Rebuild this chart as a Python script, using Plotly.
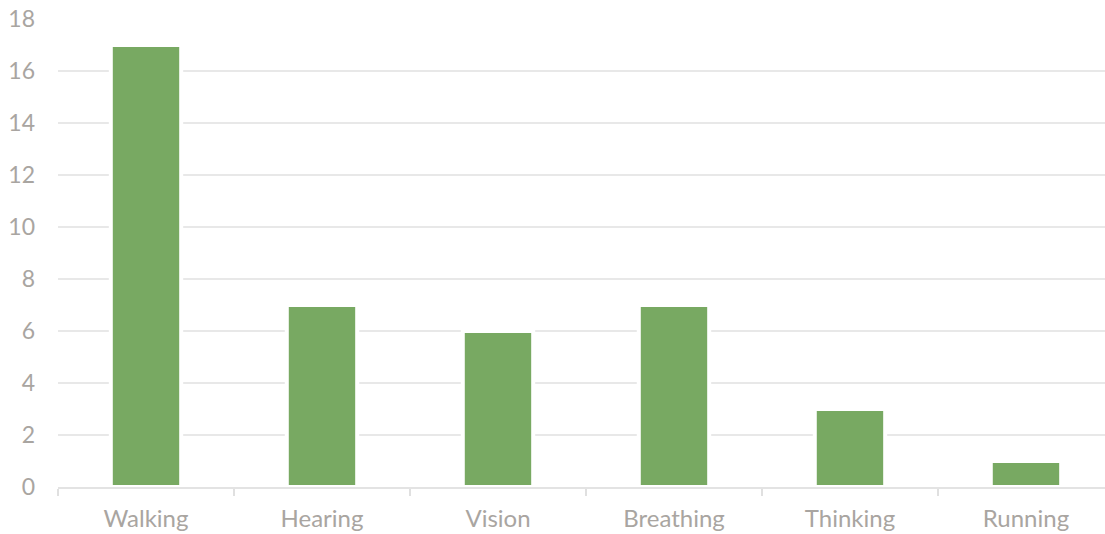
import plotly.graph_objects as go

# Categories and counts
categories = ["Walking", "Hearing", "Vision", "Breathing", "Thinking", "Running"]
counts = [17, 7, 6, 7, 3, 1]
y_ticks = [0, 2, 4, 6, 8, 10, 12, 14, 16, 18]

BAR_GREEN = "#78a962"
LABEL_GRAY = "#a9a5a1"
GRID_GRAY = "#e8e8e8"

fig = go.Figure(
    go.Bar(
        x=categories,
        y=counts,
        width=0.4,
        marker=dict(color=BAR_GREEN, line=dict(color="white", width=4)),
        hoverinfo="x+y",
    )
)

fig.update_layout(
    width=1105,
    height=534,
    margin=dict(l=58, r=0, t=19, b=47),
    paper_bgcolor="white",
    plot_bgcolor="white",
    font=dict(family="Lato", size=22, color=LABEL_GRAY),
    showlegend=False,
    bargap=0.6,
)

fig.update_xaxes(
    type="category",
    range=[-0.5, 5.449],
    showline=True,
    linecolor="#e3e3e3",
    linewidth=2,
    ticks="outside",
    tickson="boundaries",
    ticklen=7,
    tickcolor="#e0e0e0",
    tickwidth=2,
    showgrid=False,
    tickfont=dict(size=24, color=LABEL_GRAY),
    ticklabelstandoff=9,
)

fig.update_yaxes(
    range=[0, 18],
    tickvals=y_ticks,
    showgrid=True,
    gridcolor=GRID_GRAY,
    gridwidth=2,
    zeroline=False,
    showline=False,
    tickfont=dict(size=23, color=LABEL_GRAY),
    ticklabelstandoff=22,
)

fig.write_html("out.html")
